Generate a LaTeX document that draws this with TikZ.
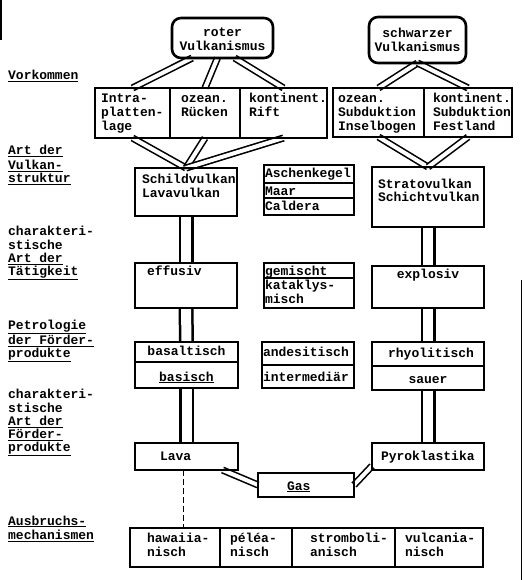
\documentclass[tikz,border=0pt]{standalone}
\usepackage{fontspec}
\newfontfamily\tw{Liberation Mono}
\usetikzlibrary{calc}
\pgfdeclarelayer{paper}
\pgfdeclarelayer{pipes}
\pgfsetlayers{paper,pipes,main}
% box text: width, height, first-baseline offset, alignment, text
\newcommand{\bx}[5]{\parbox[c][#2pt][t]{#1pt}{\vspace*{\dimexpr#3pt-9.8pt\relax}#4\strut#5}}
\newcommand{\lp}[1]{\raggedright\leftskip=#1pt\relax}
\newcommand{\lbltext}[1]{\parbox[t]{120pt}{\raggedright\strut#1}}
\tikzset{
  box/.style={draw, line width=2.6pt, inner sep=0pt, outer sep=0pt, anchor=north west},
  cell/.style={draw, line width=1.2pt, inner sep=0pt, outer sep=0pt, anchor=north west},
  rbox/.style={box, rounded corners=9pt},
  grp/.style={line width=2.6pt},
  lbl/.style={anchor=base west, inner sep=0pt, font=\tw\bfseries\fontsize{13}{13}\selectfont},
  vpipe/.style={double=white, double distance=10pt, line width=2.5pt},
  dpipe/.style={double=white, double distance=4pt, line width=1.6pt},
}
\begin{document}
\begin{tikzpicture}[x=1pt, y=-1pt, font=\tw\bfseries\fontsize{13}{14}\selectfont]
\useasboundingbox (0,0) rectangle (524,580);
\begin{pgfonlayer}{paper}
\fill[white] (0,0) rectangle (524,580);
\end{pgfonlayer}

% ---------- left labels ----------
\node[lbl] (lvork) at (8,80) {\lbltext{\underline{Vorkommen}}};
\node[lbl] (lstruk) at (8,155) {\lbltext{\underline{Art der}\\\underline{Vulkan-}\\\underline{struktur}}};
\node[lbl] (ltaet) at (8,235) {\lbltext{charakteri-\\stische\\\underline{Art der}\\\underline{Tätigkeit}}};
\node[lbl] (lpetro) at (8,329) {\lbltext{\underline{Petrologie}\\\underline{der Förder-}\\\underline{produkte}}};
\node[lbl] (lfoerd) at (8,398) {\lbltext{charakteri-\\stische\\\underline{Art der}\\\underline{Förder-}\\\underline{produkte}}};
\node[lbl] (lausb) at (8,525) {\lbltext{\underline{Ausbruchs-}\\\underline{mechanismen}}};

% ---------- top ----------
\node[rbox] (roter) at (172,18) {\bx{101}{40}{19}{\centering}{roter\\Vulkanismus}};
\node[rbox] (schwarz) at (369,17) {\bx{97}{46}{21}{\centering}{schwarzer\\Vulkanismus}};

% ---------- Vorkommen ----------
\node[cell] (intra) at (95,88) {\bx{75}{50}{15}{\lp{6}}{Intra-\\platten-\\lage}};
\node[cell] (ozeanr) at (170,88) {\bx{70}{50}{15}{\lp{11}}{ozean.\\Rücken}};
\node[cell] (kontr) at (240,88) {\bx{87}{50}{15}{\lp{9}}{kontinent.\\Rift}};
\draw[grp] (intra.north west) rectangle (kontr.south east);
\node[cell] (subd1) at (333,88) {\bx{91}{49}{15}{\lp{5}}{ozean.\\Subduktion\\Inselbogen}};
\node[cell] (subd2) at (424,88) {\bx{88}{49}{15}{\lp{9}}{kontinent.\\Subduktion\\Festland}};
\draw[grp] (subd1.north west) rectangle (subd2.south east);

% ---------- Vulkanstruktur ----------
\node[box] (schild) at (135,168) {\bx{102}{48}{15}{\lp{7}}{Schildvulkan\\Lavavulkan}};
\node[cell] (asche) at (264,165) {\bx{90}{18}{12}{\lp{1}}{Aschenkegel}};
\node[cell] (maar) at (264,183) {\bx{90}{15}{12}{\lp{1}}{Maar}};
\node[cell] (caldera) at (264,198) {\bx{90}{17}{12}{\lp{1}}{Caldera}};
\draw[grp] (asche.north west) rectangle (caldera.south east);
\node[box] (strato) at (372,167) {\bx{112}{60}{21}{\lp{6}}{Stratovulkan\\Schichtvulkan}};

% ---------- Taetigkeit ----------
\node[box] (effusiv) at (135,263) {\bx{102}{45}{12}{\lp{12}}{effusiv}};
\node[cell] (gemischt) at (264,263) {\bx{90}{15}{12}{\lp{1}}{gemischt}};
\node[cell] (katak) at (264,278) {\bx{90}{30}{11}{\lp{1}}{kataklys-\\misch}};
\draw[grp] (gemischt.north west) rectangle (katak.south east);
\node[box] (explosiv) at (372,266) {\bx{112}{42}{12}{\centering}{explosiv}};

% ---------- Petrologie ----------
\node[cell] (basalt) at (135,342) {\bx{103}{20}{13}{\centering}{basaltisch}};
\node[cell] (basisch) at (135,362) {\bx{103}{26}{19}{\centering}{\underline{basisch}}};
\draw[grp] (basalt.north west) rectangle (basisch.south east);
\node[cell] (andes) at (262,342) {\bx{92}{23}{14}{\lp{1}}{andesitisch}};
\node[cell] (interm) at (262,365) {\bx{92}{23}{16}{\lp{1}}{intermediär}};
\draw[grp] (andes.north west) rectangle (interm.south east);
\node[cell] (rhyo) at (372,342) {\bx{112}{24}{15}{\centering}{\hspace*{6pt}rhyolitisch}};
\node[cell] (sauer) at (372,366) {\bx{112}{24}{17}{\centering}{sauer}};
\draw[grp] (rhyo.north west) rectangle (sauer.south east);

% ---------- Foerderprodukte ----------
\node[box] (lava) at (135,443) {\bx{103}{27}{17}{\lp{25}}{Lava}};
\node[box] (pyro) at (372,443) {\bx{112}{27}{17}{\lp{9}}{Pyroklastika}};
\node[box] (gas) at (258,473) {\bx{96}{24}{17}{\lp{29}}{\underline{Gas}}};

% ---------- Ausbruchsmechanismen ----------
\node[cell] (haw) at (130,528) {\bx{90}{39}{14}{\lp{17}}{hawaiia-\\nisch}};
\node[cell] (pele) at (220,528) {\bx{72}{39}{14}{\lp{10}}{péléa-\\nisch}};
\node[cell] (strom) at (292,528) {\bx{103}{39}{14}{\lp{18}}{stromboli-\\anisch}};
\node[cell] (vulc) at (395,528) {\bx{88}{39}{14}{\lp{10}}{vulcania-\\nisch}};
\draw[grp] (haw.north west) rectangle (vulc.south east);

% ---------- connectors ----------
\begin{pgfonlayer}{pipes}
\draw[dpipe] ($(roter.south west)!0.2!(roter.south east)$) -- (intra.north);
\draw[dpipe] ($(roter.south west)!0.45!(roter.south east)$) -- (ozeanr.north);
\draw[dpipe] ($(roter.south west)!0.62!(roter.south east)$) -- (kontr.north);
\draw[dpipe] (schwarz.south) -- (subd1.north);
\draw[dpipe] (schwarz.south) -- (subd2.north);
\draw[dpipe] (intra.south) -- (schild.north);
\draw[dpipe] (ozeanr.south) -- (schild.north);
\draw[dpipe] (kontr.south) -- (schild.north);
\draw[dpipe] (subd1.south) -- (strato.north);
\draw[dpipe] (subd2.south) -- (strato.north);
\draw[vpipe] (schild.south) -- (effusiv.north);
\draw[vpipe] (effusiv.south) -- (basalt.north);
\draw[vpipe] (basisch.south) -- (lava.north);
\draw[vpipe] (strato.south) -- (explosiv.north);
\draw[vpipe] (explosiv.south) -- (rhyo.north);
\draw[vpipe] (sauer.south) -- (pyro.north);
\draw[dpipe] ($(lava.south west)!0.85!(lava.south east)$) -- (gas.west);
\draw[dpipe] ($(pyro.south west)!0.15!(pyro.north west)$) -- (gas.east);
\end{pgfonlayer}
\draw[line width=1.2pt, dash pattern=on 6pt off 3pt] ($(lava.south)+(-3,0)$) -- ($(lava.south |- haw.north)+(-3,0)$);

% scan edge marks
\draw[line width=1pt] (521,280) -- (521,580);
\draw[line width=1.2pt] (1,0) -- (1,40);
\end{tikzpicture}
\end{document}
